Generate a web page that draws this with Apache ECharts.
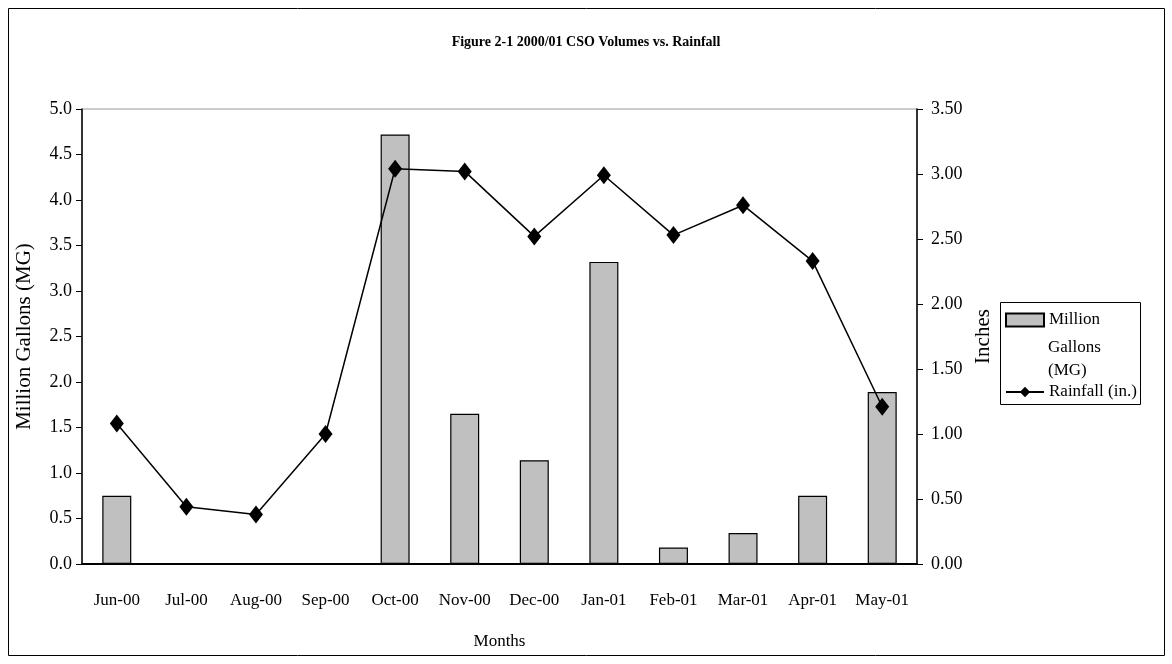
<!DOCTYPE html>
<html>
<head>
<meta charset="utf-8">
<script src="https://cdn.jsdelivr.net/npm/echarts@6/dist/echarts.min.js"></script>
<style>
  html, body { margin: 0; padding: 0; background: #fff; }
  #myChart { width: 1172px; height: 664px; }
</style>
</head>
<body>
<div id="myChart"></div>
<script>
// data
var months = ['Jun-00', 'Jul-00', 'Aug-00', 'Sep-00', 'Oct-00', 'Nov-00', 'Dec-00', 'Jan-01', 'Feb-01', 'Mar-01', 'Apr-01', 'May-01'];
var volumeMG = [0.75, 0, 0.01, 0, 4.72, 1.65, 1.14, 3.32, 0.18, 0.34, 0.75, 1.89];
var rainfallIn = [1.08, 0.44, 0.38, 1.00, 3.04, 3.02, 2.52, 2.99, 2.53, 2.76, 2.33, 1.21];

var font = 'Liberation Serif';
var myChart = echarts.init(document.getElementById('myChart'));
var option = {
    backgroundColor: '#fff',
    animation: false,
    graphic: [
        {
            type: 'rect',
            shape: { x: 8.5, y: 8.5, width: 1156, height: 647 },
            style: { fill: 'none', stroke: '#000', lineWidth: 1 }
        },
        {
            // legend box
            type: 'rect',
            shape: { x: 1000.5, y: 302.5, width: 140, height: 102 },
            style: { fill: 'none', stroke: '#000', lineWidth: 1 }
        },
        {
            // rest of the wrapped legend name
            type: 'text',
            left: 1048,
            top: 336,
            style: { text: 'Gallons\n(MG)', font: '17px "Liberation Serif"', fill: '#000', lineHeight: 23 }
        }
    ],
    title: {
        text: 'Figure 2-1 2000/01 CSO Volumes vs. Rainfall',
        left: 'center',
        top: 30,
        textStyle: { fontFamily: font, fontSize: 14, fontWeight: 'bold', color: '#000' }
    },
    legend: {
        orient: 'vertical',
        left: 1000,
        top: 306,
        padding: [3, 5, 3, 5],
        itemGap: 50,
        itemWidth: 38,
        itemHeight: 13,
        textStyle: { fontFamily: font, fontSize: 17, color: '#000', lineHeight: 22 },
        formatter: function (name) {
            return name === 'Million Gallons (MG)' ? 'Million' : name;
        },
        data: [
            { name: 'Million Gallons (MG)', icon: 'rect' },
            { name: 'Rainfall (in.)' }
        ]
    },
    grid: {
        left: 82, right: 255, top: 109, bottom: 100,
        show: true, borderColor: '#999', borderWidth: 1
    },
    xAxis: {
        type: 'category',
        data: months,
        name: 'Months',
        nameLocation: 'middle',
        nameGap: 69,
        nameTextStyle: { fontFamily: font, fontSize: 17, color: '#000' },
        axisLine: { lineStyle: { color: '#000', width: 2 } },
        axisTick: { length: 8, lineStyle: { color: '#000' } },
        axisLabel: { fontFamily: font, fontSize: 17, color: '#000', margin: 28, interval: 0 }
    },
    yAxis: [
        {
            type: 'value',
            min: 0, max: 5, interval: 0.5,
            name: 'Million Gallons (MG)',
            nameLocation: 'middle',
            nameGap: 47,
            nameTextStyle: { fontFamily: font, fontSize: 21, color: '#000' },
            axisLine: { show: true, lineStyle: { color: '#000', width: 1.5 } },
            axisTick: { show: true, length: 6, lineStyle: { color: '#000' } },
            splitLine: { show: false },
            axisLabel: {
                fontFamily: font, fontSize: 18, color: '#000', margin: 10,
                formatter: function (v) { return v.toFixed(1); }
            }
        },
        {
            type: 'value',
            min: 0, max: 3.5, interval: 0.5,
            name: 'Inches',
            nameLocation: 'middle',
            nameGap: 54,
            nameRotate: 90,
            nameTextStyle: { fontFamily: font, fontSize: 21, color: '#000' },
            axisLine: { show: true, lineStyle: { color: '#000', width: 1.5 } },
            axisTick: { show: true, length: 6, lineStyle: { color: '#000' } },
            splitLine: { show: false },
            axisLabel: {
                fontFamily: font, fontSize: 18, color: '#000', margin: 14,
                formatter: function (v) { return v.toFixed(2); }
            }
        }
    ],
    series: [
        {
            name: 'Million Gallons (MG)',
            type: 'bar',
            data: volumeMG,
            barWidth: 29,
            itemStyle: { color: '#c0c0c0', borderColor: '#000', borderWidth: 1.2 }
        },
        {
            name: 'Rainfall (in.)',
            type: 'line',
            yAxisIndex: 1,
            data: rainfallIn,
            symbol: 'diamond',
            symbolSize: [14, 18],
            lineStyle: { color: '#000', width: 1.5 },
            itemStyle: { color: '#000' }
        }
    ]
};
myChart.setOption(option);
</script>
</body>
</html>
